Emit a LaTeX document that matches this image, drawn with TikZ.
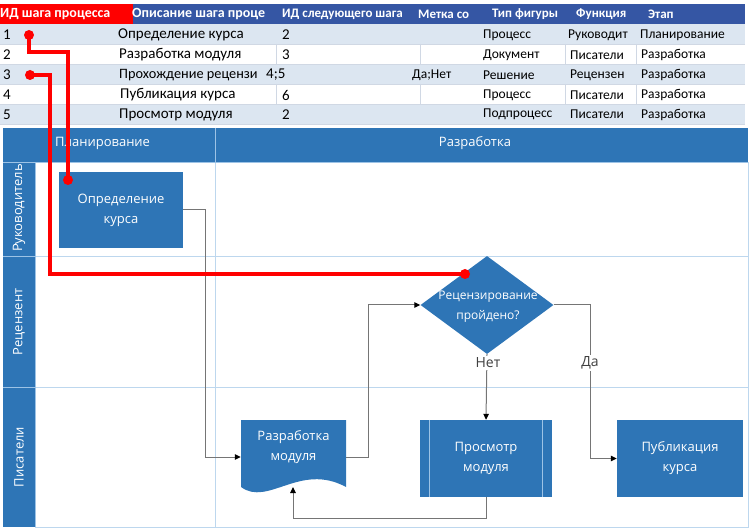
\documentclass[tikz,border=0pt]{standalone}
\usepackage{fontspec}
\setmainfont{Open Sans}
\newfontfamily\tbl{Carlito}
\usetikzlibrary{shapes.geometric,arrows.meta}
\definecolor{hdrnavy}{HTML}{3556A4}
\definecolor{rowblue}{HTML}{DCE6F1}
\definecolor{tgrid}{HTML}{D0D8E4}
\definecolor{shapeblue}{HTML}{2E75B6}
\definecolor{lanegrid}{HTML}{BDD7EE}
\definecolor{lanesep}{HTML}{9DC3E6}
\definecolor{conncol}{HTML}{757575}
\tikzset{
  tcell/.style={anchor=west, font=\tbl\fontsize{13.5}{14}\selectfont, inner sep=0pt},
  tcellwide/.style={anchor=west, font=\tbl\fontsize{15}{16}\selectfont, inner sep=0pt},
  thead/.style={anchor=west, font=\tbl\bfseries\fontsize{13}{13}\selectfont, text=white, inner sep=0pt},
  theadwide/.style={anchor=west, font=\tbl\bfseries\fontsize{14}{14}\selectfont, text=white, inner sep=0pt},
  shapetext/.style={text=white, font=\fontsize{13}{20}\selectfont, align=center, inner sep=0pt},
  proc/.style={fill=shapeblue, shapetext, minimum width=124pt, minimum height=76pt},
  lanelabel/.style={text=white, font=\fontsize{13}{14}\selectfont, rotate=90, inner sep=0pt},
  phaselabel/.style={text=white, font=\fontsize{13}{14}\selectfont, inner sep=0pt},
  conn/.style={draw=conncol, line width=1pt, -{Triangle[length=6pt,width=5.5pt,color=black]}},
  edgelabel/.style={fill=white, text=black!75, font=\fontsize{14}{14}\selectfont, inner sep=1.5pt},
  redline/.style={draw=red, line width=3.2pt},
  reddot/.style={circle, fill=red, inner sep=0pt, minimum size=10pt},
  sublines/.style={draw=lanesep, line width=0.8pt}
}
\begin{document}
\begin{tikzpicture}[x=1pt,y=-1pt]
\useasboundingbox (0,0) rectangle (750,529);
% ---------------- table ----------------
\fill[red] (0,4) rectangle (133,24);
\fill[hdrnavy] (133,4) rectangle (745,24);
\fill[rowblue] (0,24) rectangle (745,44);
\fill[rowblue] (0,64) rectangle (745,84);
\fill[rowblue] (0,104) rectangle (745,124);
\foreach \yy in {44,64,84,104,124} \draw[tgrid, line width=0.6pt] (0,\yy) -- (745,\yy);
\foreach \yy in {44,84} {
  \foreach \xx in {276,420,565,636} \draw[tgrid, line width=0.6pt] (\xx,\yy) -- (\xx,\yy+20);
}
\node[theadwide] (h1) at (0,14.5) {ИД шага процесса};
\node[theadwide] (h2) at (132,14.5) {Описание шага проце};
\node[thead] (h3) at (282,14.5) {ИД следующего шага};
\node[thead] (h4) at (418,14.5) {Метка со};
\node[thead] (h5) at (492,14.5) {Тип фигуры};
\node[thead] (h6) at (576,14.5) {Функция};
\node[thead] (h7) at (648,14.5) {Этап};
% row 1
\node[tcellwide] (a1) at (3,35) {1};
\node[tcellwide] (b1) at (118,35) {Определение курса};
\node[tcellwide] (c1) at (282,35) {2};
\node[tcell] (e1) at (483,35) {Процесс};
\node[tcell] (f1) at (568,35) {Руководит};
\node[tcell] (g1) at (640,35) {Планирование};
% row 2
\node[tcellwide] (a2) at (3,55) {2};
\node[tcellwide] (b2) at (119,55) {Разработка модуля};
\node[tcellwide] (c2) at (282,55) {3};
\node[tcell] (e2) at (483,55) {Документ};
\node[tcell] (f2) at (570,55) {Писатели};
\node[tcell] (g2) at (641,55) {Разработка};
% row 3
\node[tcellwide] (a3) at (3,75) {3};
\node[tcellwide, font=\tbl\fontsize{14.3}{16}\selectfont] (b3) at (119,75) {Прохождение рецензи};
\node[tcellwide] (c3) at (266,75) {4;5};
\node[tcell] (d3) at (412,75) {Да;Нет};
\node[tcell] (e3) at (483,75) {Решение};
\node[tcell] (f3) at (570,75) {Рецензен};
\node[tcell] (g3) at (641,75) {Разработка};
% row 4
\node[tcellwide] (a4) at (3,95) {4};
\node[tcellwide] (b4) at (120,95) {Публикация курса};
\node[tcellwide] (c4) at (282,95) {6};
\node[tcell] (e4) at (483,95) {Процесс};
\node[tcell] (f4) at (570,95) {Писатели};
\node[tcell] (g4) at (641,95) {Разработка};
% row 5
\node[tcellwide] (a5) at (3,114.5) {5};
\node[tcellwide] (b5) at (119,114.5) {Просмотр модуля};
\node[tcellwide] (c5) at (282,114.5) {2};
\node[tcell] (e5) at (483,114.5) {Подпроцесс};
\node[tcell] (f5) at (570,114.5) {Писатели};
\node[tcell] (g5) at (641,114.5) {Разработка};
% ---------------- swimlanes ----------------
\fill[shapeblue] (3,128) rectangle (748,162);
\fill[shapeblue] (3,162) rectangle (35,527);
\draw[lanegrid, line width=0.8pt] (35,162) rectangle (748,527);
\draw[lanegrid, line width=0.8pt] (35,256) -- (748,256);
\draw[lanegrid, line width=0.8pt] (35,387) -- (748,387);
\draw[lanegrid, line width=0.8pt] (215,162) -- (215,527);
\draw[lanesep, line width=0.8pt] (215,128) -- (215,162);
\draw[lanesep, line width=0.8pt] (3,162) -- (748,162);
\draw[lanesep, line width=0.8pt] (3,256) -- (35,256);
\draw[lanesep, line width=0.8pt] (3,387) -- (35,387);
\draw[lanesep, line width=0.8pt] (35,162) -- (35,527);
\node[phaselabel, anchor=west] (ph1) at (55,143) {Планирование};
\node[phaselabel] (ph2) at (475,143) {Разработка};
\node[lanelabel] (l1) at (19,208) {Руководитель};
\node[lanelabel] (l2) at (19,322) {Рецензент};
\node[lanelabel] (l3) at (19,457) {Писатели};
% ---------------- shapes ----------------
\node[proc] (def) at (121,210) {Определение\\курса};
\fill[shapeblue] (241,420) -- (346,420) -- (346,487) .. controls (300,462) and (268,507) .. (241,487) -- cycle;
\node[minimum width=105pt, minimum height=74pt, inner sep=0pt] (dev) at (293.5,457) {};
\node[shapetext] (devlabel) at (293.5,447) {Разработка\\модуля};
\coordinate (devbot) at (293,487);
\node[diamond, fill=shapeblue, minimum width=133pt, minimum height=98pt, inner sep=0pt] (dia) at (487,305) {};
\node[shapetext, font=\fontsize{12}{20}\selectfont] (dialabel) at (488,307) {Рецензирование\\пройдено?};
\node[proc, minimum width=132pt, minimum height=77pt] (rev) at (486,458.5) {Просмотр\\модуля};
\draw[sublines] ([xshift=10pt]rev.north west) -- ([xshift=10pt]rev.south west);
\draw[sublines] ([xshift=-10pt]rev.north east) -- ([xshift=-10pt]rev.south east);
\node[proc, minimum width=126pt, minimum height=77pt] (pub) at (680,458.5) {Публикация\\курса};
% ---------------- connectors ----------------
\draw[conn] (def.east) -- ++(22,0) |- (dev.west);
\draw[conn] (dev.east) -- ++(22,0) |- (dia.west);
\draw[conn] (dia.east) -- ++(37,0) |- (pub.west);
\draw[conn] (dia.south) -- (rev.north);
\draw[conn] (rev.south) -- ++(0,21) -| (devbot);
\node[edgelabel] (no) at (488,363) {Нет};
\node[edgelabel] (yes) at (590,363) {Да};
% ---------------- red links ----------------
\node[reddot] (r1) at (29,35) {};
\node[reddot] (r1e) at (68,180) {};
\node[reddot] (r3) at (30,75) {};
\node[reddot] (r3e) at (465,274) {};
\draw[redline] (r1.center) -- ++(0,17) -| (r1e.center);
\draw[redline] (r3.center) -- ++(20,0) |- (r3e.center);
\end{tikzpicture}
\end{document}
